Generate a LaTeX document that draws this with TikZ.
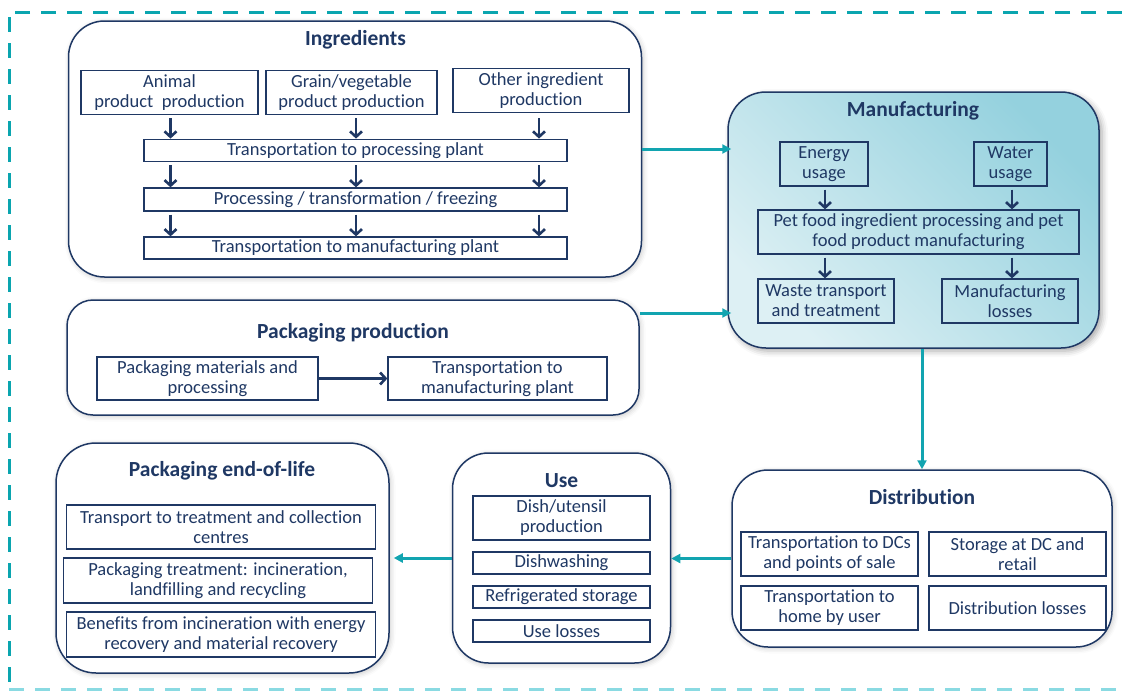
\documentclass[tikz,border=0pt]{standalone}
\usepackage{fontspec}
\setmainfont{Carlito}[Ligatures={NoCommon}]
\usetikzlibrary{arrows.meta,shadows.blur}
\definecolor{navy}{HTML}{1F3864}
\definecolor{tealc}{HTML}{12A4B0}
\definecolor{frameA}{HTML}{0AA5AF}
\definecolor{frameB}{HTML}{8ADAE2}
\definecolor{manDark}{HTML}{94D1DE}
\definecolor{manLight}{HTML}{DDF0F4}
\newcommand\bodyfont{\fontsize{18.5}{20}\selectfont}
\newcommand\titlefont{\fontsize{21.5}{24}\selectfont\bfseries}
\begin{document}
\begin{tikzpicture}[x=1pt,y=-1pt,
  bigbase/.style={draw=navy, line width=1.5pt, rounded corners=36pt, inner sep=0pt,
    blur shadow={shadow xshift=1.5pt, shadow yshift=-1.5pt, shadow blur radius=5pt, shadow opacity=22}},
  bigw/.style={bigbase, fill=white},
  manbox/.style={draw=navy, line width=1.5pt, rounded corners=38pt, inner sep=0pt,
    top color=manDark, bottom color=manLight, shading angle=-45,
    blur shadow={shadow xshift=3pt, shadow yshift=-3pt, shadow blur radius=6pt, shadow opacity=35}},
  boxbase/.style={draw=navy, line width=1.3pt, inner sep=0pt, align=center, text=navy, font=\bodyfont},
  bx/.style 2 args={boxbase, minimum width=#1pt, minimum height=#2pt},
  ttl/.style={text=navy, font=\titlefont, inner sep=0pt},
  darr/.style={draw=navy, line width=2.6pt, -{Straight Barb[length=5.5pt,width=12pt]}},
  tarr/.style={draw=tealc, line width=3pt, -{Triangle[length=9pt,width=9pt]}},
  frameline/.style={line width=3pt, dash pattern=on 15pt off 11pt}
]
\useasboundingbox (0,0) rectangle (1122,691);

% outer dashed frame
\draw[frameline, draw=frameA] (1122,12) -- (9,12) -- (9,691);
\draw[frameline, draw=frameB] (9,689) -- (1122,689);

% ---------- Ingredients ----------
\node[bigw, minimum width=573pt, minimum height=256pt] (ing) at (355,149) {};
\node[ttl] (ingT) at (355.5,40) {Ingredients};
\node[bx={177}{44}] (animal) at (169.5,92.5) {Animal\\product\ \ production};
\node[bx={171}{44}] (grain) at (351.5,92.5) {Grain/vegetable\\product production};
\node[bx={176}{44}] (other) at (541,90.5) {Other ingredient\\production};
\node[bx={423}{22.5}] (tpp) at (355.5,150.5) {Transportation to processing plant};
\node[bx={423}{23}] (proc) at (355.5,199.5) {Processing / transformation / freezing};
\node[bx={423}{22}] (tmp) at (355.5,248) {Transportation to manufacturing plant};
\coordinate (c1) at (170.5,0);
\coordinate (c2) at (356,0);
\coordinate (c3) at (539,0);
\foreach \c in {c1,c2,c3}{
  \draw[darr] ([yshift=-3pt]animal.south -| \c) -- (tpp.north -| \c);
  \draw[darr] ([yshift=-3pt]tpp.south -| \c) -- (proc.north -| \c);
  \draw[darr] ([yshift=-3pt]proc.south -| \c) -- (tmp.north -| \c);
}

% ---------- Manufacturing ----------
\node[manbox, minimum width=371pt, minimum height=256pt] (man) at (913.5,220) {};
\node[ttl] (manT) at (913,111) {Manufacturing};
\node[bx={88}{44}] (energy) at (824,164) {Energy\\usage};
\node[bx={73}{44}] (water) at (1010.5,164) {Water\\usage};
\node[bx={321}{44}] (pet) at (918.5,232) {Pet food ingredient processing and pet\\food product manufacturing};
\node[bx={136}{44}] (waste) at (826,301) {Waste transport\\and treatment};
\node[bx={136}{44}] (mloss) at (1010,301) {Manufacturing\\losses};
\coordinate (m1) at (825,0);
\coordinate (m2) at (1012,0);
\draw[darr] ([yshift=-3pt]energy.south -| m1) -- (pet.north -| m1);
\draw[darr] ([yshift=-3pt]water.south -| m2) -- (pet.north -| m2);
\draw[darr] ([yshift=-3pt]pet.south -| m1) -- (waste.north -| m1);
\draw[darr] ([yshift=-3pt]pet.south -| m2) -- (mloss.north -| m2);

% ---------- Packaging production ----------
\node[bigw, rounded corners=26pt, minimum width=572pt, minimum height=115pt] (pkg) at (353,357.5) {};
\node[ttl] (pkgT) at (353,333) {Packaging production};
\node[bx={221}{43}] (pm) at (207.5,378.5) {Packaging materials and\\processing};
\node[bx={219}{43}] (pt) at (497.5,378.5) {Transportation to\\manufacturing plant};
\draw[darr] (pm.east) -- (pt.west);

% ---------- Distribution ----------
\node[bigw, minimum width=380pt, minimum height=177pt] (dist) at (922,558.5) {};
\node[ttl] (distT) at (922,497) {Distribution};
\node[bx={177}{44}] (tdc) at (829.5,554) {Transportation to DCs\\and points of sale};
\node[bx={177}{44}] (stor) at (1017.5,554) {Storage at DC and\\retail};
\node[bx={177}{44}] (thome) at (829.5,608) {Transportation to\\home by user};
\node[bx={177}{44}] (dloss) at (1017.5,608) {Distribution losses};

% ---------- Use ----------
\node[bigw, minimum width=218pt, minimum height=210pt] (use) at (561.5,558) {};
\node[ttl] (useT) at (561.5,481) {Use};
\node[bx={177}{44}] (dish) at (561.5,518) {Dish/utensil\\production};
\node[bx={177}{22}] (dishw) at (561.5,563) {Dishwashing};
\node[bx={177}{22}] (refr) at (561.5,597) {Refrigerated storage};
\node[bx={177}{22}] (uloss) at (561.5,631) {Use losses};

% ---------- Packaging end-of-life ----------
\node[bigw, rounded corners=40pt, minimum width=333pt, minimum height=230pt] (eol) at (222.5,558) {};
\node[ttl] (eolT) at (222,471) {Packaging end-of-life};
\node[bx={309}{44}] (tr) at (221,527) {Transport to treatment and collection\\centres};
\node[bx={309}{45}] (ptr) at (218,580.5) {Packaging treatment: incineration,\\landfilling and recycling};
\node[bx={309}{45}] (ben) at (221,634.5) {Benefits from incineration with energy\\recovery and material recovery};

% ---------- teal connectors ----------
\draw[tarr, shorten >=-4pt] (ing.east) -- (ing.east -| man.west);
\draw[tarr, shorten >=-4pt] ([yshift=44.5pt]pkg.east) -- ([yshift=44.5pt]pkg.east -| man.west);
\draw[tarr] (dist.north |- man.south) -- (dist.north);
\draw[tarr] (dist.west) -- (dist.west -| use.east);
\draw[tarr, shorten >=4pt] (use.west) -- (use.west -| eol.east);
\end{tikzpicture}
\end{document}
